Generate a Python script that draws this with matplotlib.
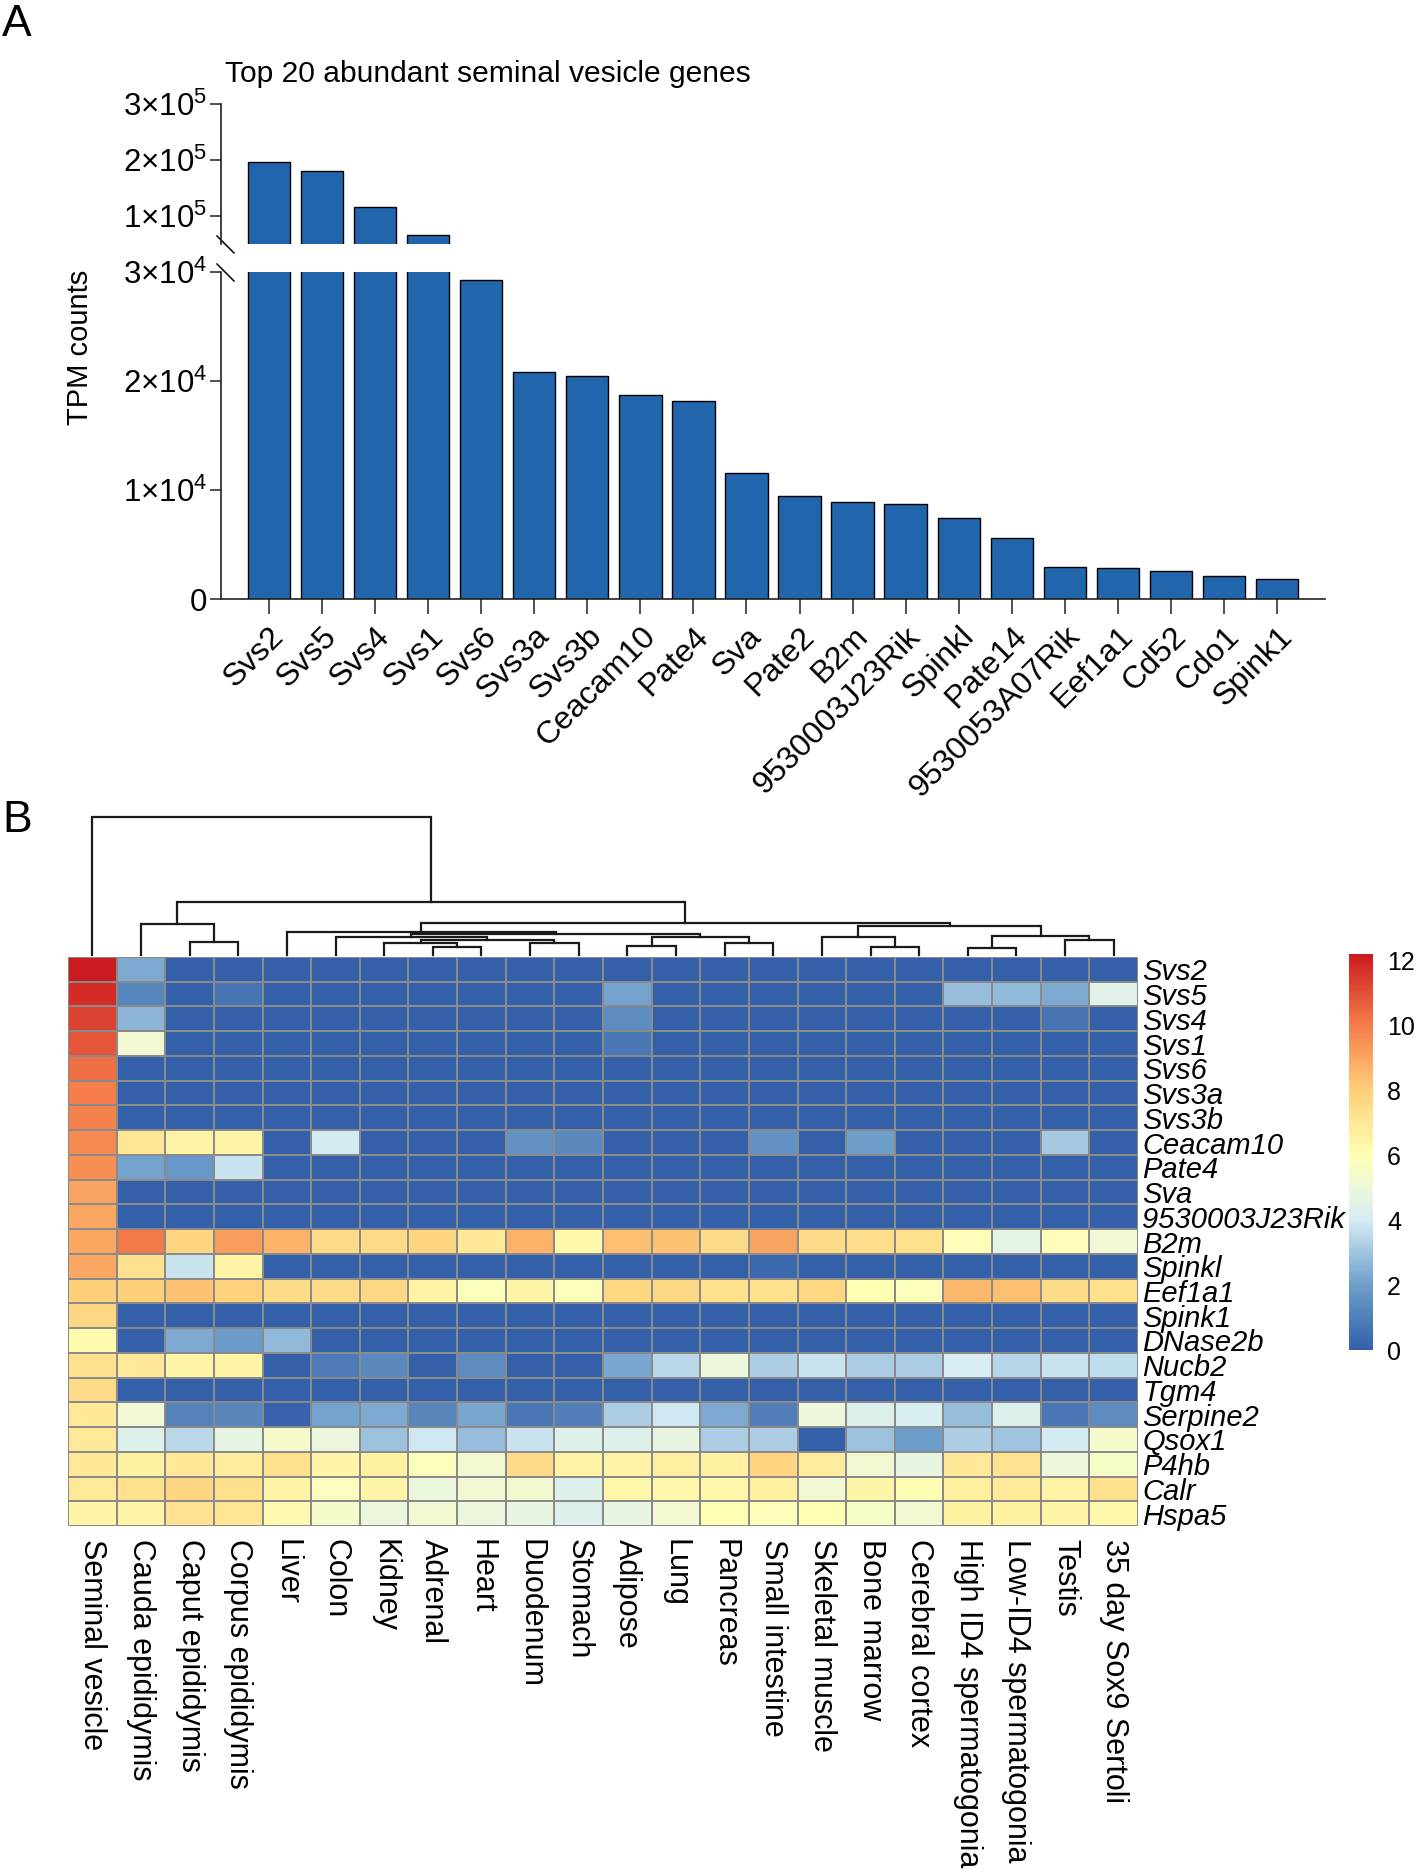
import numpy as np
import matplotlib
matplotlib.use("Agg")
import matplotlib.pyplot as plt
from matplotlib.colors import LinearSegmentedColormap

plt.rcParams['font.family'] = ['Liberation Sans', 'DejaVu Sans']
plt.rcParams['mathtext.fontset'] = 'custom'
plt.rcParams['mathtext.rm'] = 'Liberation Sans'
plt.rcParams['mathtext.it'] = 'Liberation Sans:italic'

# ---------------- panel A: top 20 genes (TPM) ----------------
bar_genes = ['Svs2', 'Svs5', 'Svs4', 'Svs1', 'Svs6', 'Svs3a', 'Svs3b', 'Ceacam10',
             'Pate4', 'Sva', 'Pate2', 'B2m', '9530003J23Rik', 'Spinkl', 'Pate14',
             '9530053A07Rik', 'Eef1a1', 'Cd52', 'Cdo1', 'Spink1']
tpm = [196400, 181000, 116700, 66700, 29300, 20800, 20500, 18750, 18200, 11600,
       9470, 8920, 8670, 7420, 5610, 2940, 2880, 2600, 2080, 1870]

hi_ticks = [1e5, 2e5, 3e5]
hi_labels = [r'$\mathregular{1×10^{5}}$', r'$\mathregular{2×10^{5}}$', r'$\mathregular{3×10^{5}}$']
lo_ticks = [0, 1e4, 2e4, 3e4]
lo_labels = ['0', r'$\mathregular{1×10^{4}}$', r'$\mathregular{2×10^{4}}$', r'$\mathregular{3×10^{4}}$']

# ---------------- panel B: heatmap ----------------
tissues = ['Seminal vesicle', 'Cauda epididymis', 'Caput epididymis', 'Corpus epididymis',
           'Liver', 'Colon', 'Kidney', 'Adrenal', 'Heart', 'Duodenum', 'Stomach', 'Adipose',
           'Lung', 'Pancreas', 'Small intestine', 'Skeletal muscle', 'Bone marrow',
           'Cerebral cortex', 'High ID4 spermatogonia', 'Low-ID4 spermatogonia', 'Testis',
           '35 day Sox9 Sertoli']
hm_genes = ['Svs2', 'Svs5', 'Svs4', 'Svs1', 'Svs6', 'Svs3a', 'Svs3b', 'Ceacam10', 'Pate4',
            'Sva', '9530003J23Rik', 'B2m', 'Spinkl', 'Eef1a1', 'Spink1', 'DNase2b', 'Nucb2',
            'Tgm4', 'Serpine2', 'Qsox1', 'P4hb', 'Calr', 'Hspa5']

expr = np.array([
    [12.2, 2.3, 0, 0, 0, 0, 0, 0, 0, 0, 0, 0, 0, 0, 0, 0, 0, 0, 0, 0, 0, 0],
    [11.8, 1.2, 0, 0.7, 0, 0, 0, 0, 0, 0, 0, 2.1, 0, 0, 0, 0, 0, 0, 2.8, 2.7, 2.3, 4.5],
    [11.3, 2.6, 0, 0, 0, 0, 0, 0, 0, 0, 0, 1.4, 0, 0, 0, 0, 0, 0, 0, 0, 0.7, 0],
    [10.9, 5.2, 0, 0, 0, 0, 0, 0, 0, 0, 0, 0.8, 0, 0, 0, 0, 0, 0, 0, 0, 0, 0],
    [10.3, 0, 0, 0, 0, 0, 0, 0, 0, 0, 0, 0, 0, 0, 0, 0, 0, 0, 0, 0, 0, 0],
    [10.0, 0, 0, 0, 0, 0, 0, 0, 0, 0, 0, 0, 0, 0, 0, 0, 0, 0, 0, 0, 0, 0],
    [9.9, 0, 0, 0, 0, 0, 0, 0, 0, 0, 0, 0, 0, 0, 0, 0, 0, 0, 0, 0, 0, 0],
    [9.7, 7.1, 6.5, 6.5, 0, 4.0, 0, 0, 0, 1.6, 1.3, 0, 0, 0, 1.6, 0, 2.0, 0, 0, 0, 3.1, 0],
    [9.6, 2.1, 1.8, 3.8, 0, 0, 0, 0, 0, 0, 0, 0, 0, 0, 0, 0, 0, 0, 0, 0, 0, 0],
    [9.1, 0, 0, 0, 0, 0, 0, 0, 0, 0, 0, 0, 0, 0, 0, 0, 0, 0, 0, 0, 0, 0],
    [9.0, 0, 0, 0, 0, 0, 0, 0, 0, 0, 0, 0, 0, 0, 0, 0, 0, 0, 0, 0, 0, 0],
    [9.0, 10.1, 7.8, 9.2, 8.7, 7.5, 7.5, 7.8, 7.0, 8.7, 6.3, 8.4, 8.3, 7.5, 9.1, 7.5, 7.4, 7.3, 5.9, 4.6, 5.9, 5.1],
    [9.0, 7.3, 3.8, 6.5, 0, 0, 0, 0, 0, 0, 0, 0, 0, 0, 0.3, 0, 0, 0, 0, 0, 0, 0],
    [8.0, 8.0, 8.3, 7.9, 7.5, 7.5, 7.6, 6.5, 5.8, 6.4, 5.8, 7.7, 7.6, 7.3, 7.3, 7.7, 6.0, 5.8, 8.6, 8.4, 7.5, 7.3],
    [7.7, 0, 0, 0, 0, 0, 0, 0, 0, 0, 0, 0, 0, 0, 0, 0, 0, 0, 0, 0, 0, 0],
    [6.2, 0, 2.3, 1.9, 2.7, 0, 0, 0, 0, 0, 0, 0, 0, 0, 0, 0, 0, 0, 0, 0, 0, 0],
    [7.3, 7.0, 6.4, 6.5, 0, 0.9, 1.3, 0, 1.4, 0, 0, 2.2, 3.5, 5.0, 3.2, 3.8, 3.2, 3.2, 4.1, 3.4, 3.8, 3.6],
    [7.5, 0, 0, 0, 0, 0, 0, 0, 0, 0, 0, 0, 0, 0, 0, 0, 0, 0, 0, 0, 0, 0],
    [7.0, 5.1, 1.1, 1.2, 0.1, 2.1, 2.3, 1.2, 2.2, 0.8, 1.0, 3.2, 3.9, 2.3, 1.0, 5.0, 4.3, 4.2, 2.8, 4.3, 0.8, 1.4],
    [7.0, 4.4, 3.5, 4.7, 5.4, 4.9, 2.9, 3.9, 2.8, 3.8, 4.4, 4.4, 4.8, 3.2, 3.2, 0, 2.9, 2.0, 3.2, 3.0, 4.0, 5.4],
    [7.0, 6.6, 7.0, 6.8, 7.3, 6.4, 6.6, 5.8, 5.2, 7.5, 6.5, 6.5, 6.7, 6.6, 7.8, 6.8, 5.2, 4.8, 7.0, 7.2, 5.0, 5.5],
    [7.0, 7.3, 7.8, 7.3, 6.4, 5.7, 6.4, 5.0, 5.2, 5.3, 4.4, 6.3, 6.3, 6.3, 6.7, 5.2, 6.4, 6.0, 6.7, 6.9, 6.5, 7.3],
    [6.4, 6.5, 7.2, 7.1, 6.2, 5.4, 4.9, 5.2, 4.9, 4.8, 4.3, 4.8, 5.2, 6.0, 5.9, 6.0, 5.5, 5.2, 6.6, 6.6, 6.4, 6.3],
])

# column dendrogram: (left child, right child, height); leaves 0..21, new nodes from 22 on
merges = [
    (2, 3, 38), (1, 22, 92), (7, 8, 25), (6, 24, 35), (9, 10, 35), (25, 26, 45),
    (5, 27, 53), (11, 12, 27), (13, 14, 37), (29, 30, 55), (28, 31, 63), (4, 32, 70),
    (16, 17, 25), (15, 34, 53), (18, 19, 20), (20, 21, 45), (36, 37, 57), (35, 38, 87),
    (33, 39, 97), (23, 40, 160), (0, 41, 415),
]
cbar_ticks = [0, 2, 4, 6, 8, 10, 12]

W, H = 1418, 1876
fig = plt.figure(figsize=(W / 100, H / 100), dpi=100)


def box(x0, y0, x1, y1):
    # pixel box (top-left origin) -> figure fraction rect
    return [x0 / W, 1 - y1 / H, (x1 - x0) / W, (y1 - y0) / H]


# ---- bar chart with broken y axis ----
ax_hi = fig.add_axes(box(221, 104, 1325, 244))
ax_lo = fig.add_axes(box(221, 272, 1325, 599))
x = np.arange(len(bar_genes))
for ax in (ax_hi, ax_lo):
    ax.bar(x, tpm, width=0.8, color='#2166ac', edgecolor='black', linewidth=1.0)
    ax.set_xlim(-0.9, 19.9)
    for s in ('top', 'right'):
        ax.spines[s].set_visible(False)
    for s in ('left', 'bottom'):
        ax.spines[s].set_linewidth(1.2)
        ax.spines[s].set_color('#222222')
    ax.tick_params(axis='y', length=8, width=1.1, labelsize=22.5, pad=2, color='#222222')

ax_hi.set_ylim(5e4, 3e5)
ax_hi.spines['bottom'].set_visible(False)
ax_hi.set_xticks([])
ax_hi.set_yticks(hi_ticks)
ax_hi.set_yticklabels(hi_labels)

ax_lo.set_ylim(0, 3e4)
ax_lo.set_yticks(lo_ticks)
ax_lo.set_yticklabels(lo_labels)
ax_lo.set_xticks(x)
ax_lo.set_xticklabels(bar_genes, rotation=45, ha='right', va='top',
                      rotation_mode='anchor', fontsize=23)
ax_lo.tick_params(axis='x', length=11, width=1.1, pad=5, color='#222222')

# break marks on the y axis
brk = dict(marker=[(-1, 1), (1, -1)], markersize=13, linestyle='none',
           color='k', mec='k', mew=1.1, clip_on=False)
ax_hi.plot([0.004], [0], transform=ax_hi.transAxes, **brk)
ax_lo.plot([0.004], [1], transform=ax_lo.transAxes, **brk)

fig.text(225 / W, 1 - 82 / H, 'Top 20 abundant seminal vesicle genes', fontsize=21.6,
         ha='left', va='baseline')
fig.text(80 / W, 1 - 347 / H, 'TPM counts', fontsize=21, rotation=90,
         ha='center', va='center')

# ---- heatmap ----
cmap = LinearSegmentedColormap.from_list('hm', [
    (0.0, '#3360a9'), (2 / 12.2, '#6f9fcb'), (4 / 12.2, '#d4ecf4'), (5 / 12.2, '#eef7da'),
    (6 / 12.2, '#ffffb3'), (8 / 12.2, '#fed07a'), (10 / 12.2, '#f57e4a'), (1.0, '#cc1b20')])
vmax = expr.max()

ax_hm = fig.add_axes(box(68, 957, 1138, 1526))
mesh = ax_hm.pcolormesh(expr, cmap=cmap, vmin=0, vmax=vmax,
                        edgecolors='#8a8a8a', linewidth=1.3)
ax_hm.set_xlim(0, len(tissues))
ax_hm.set_ylim(len(hm_genes), 0)
for s in ax_hm.spines.values():
    s.set_visible(False)
ax_hm.set_xticks(np.arange(len(tissues)) + 0.5)
ax_hm.set_xticklabels(tissues, rotation=-90, fontsize=22, ha='center', va='top')
ax_hm.set_yticks(np.arange(len(hm_genes)) + 0.5)
ax_hm.set_yticklabels(hm_genes, fontsize=21, style='italic')
ax_hm.yaxis.tick_right()
ax_hm.tick_params(length=0)
ax_hm.tick_params(axis='x', pad=9)
ax_hm.tick_params(axis='y', pad=3)

# ---- column dendrogram ----
ax_dn = fig.add_axes(box(68, 817, 1138, 955))
pos = {i: i + 0.5 for i in range(len(tissues))}
hgt = {i: 0.0 for i in range(len(tissues))}
for k, (a, b, h) in enumerate(merges):
    node = len(tissues) + k
    ax_dn.plot([pos[a], pos[a], pos[b], pos[b]], [hgt[a], h, h, hgt[b]],
               color='#1a1a1a', lw=1.6, clip_on=False, solid_joinstyle='miter')
    pos[node] = (pos[a] + pos[b]) / 2
    hgt[node] = h
ax_dn.set_xlim(0, len(tissues))
ax_dn.set_ylim(0, merges[-1][2])
ax_dn.axis('off')

# ---- colour bar ----
cax = fig.add_axes(box(1349, 954, 1373, 1350))
cb = fig.colorbar(mesh, cax=cax, ticks=cbar_ticks)
cb.outline.set_visible(False)
cb.ax.tick_params(length=0, labelsize=18, pad=10)

# panel letters
fig.text(2 / W, 1 - 4 / H, 'A', fontsize=32, ha='left', va='top')
fig.text(2 / W, 1 - 800 / H, 'B', fontsize=32, ha='left', va='top')

fig.savefig('out.png', dpi=100)
